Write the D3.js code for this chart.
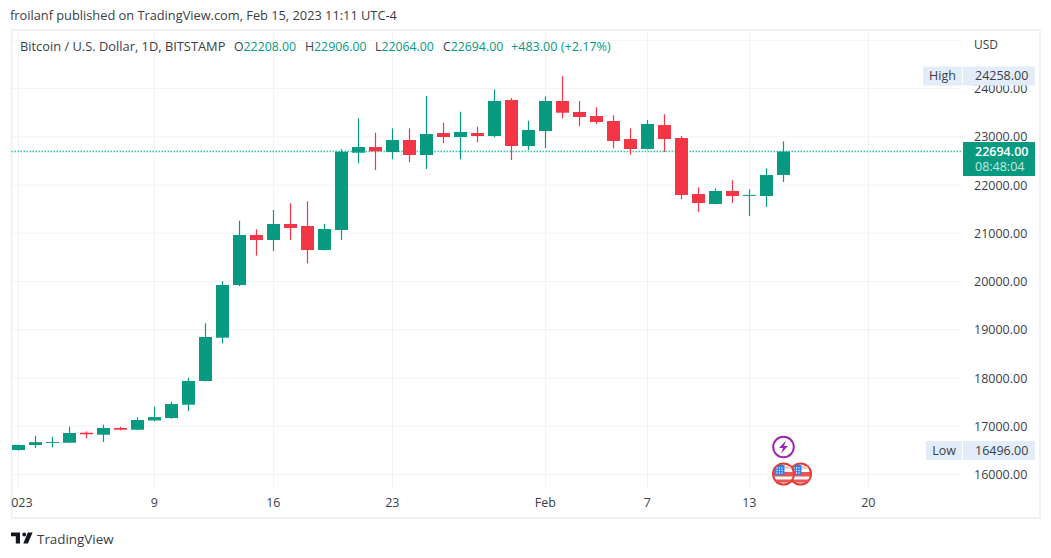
<!DOCTYPE html>
<html><head><meta charset="utf-8">
<script src="https://d3js.org/d3.v7.min.js"></script>
<style>
html,body{margin:0;padding:0;background:#fff;overflow:hidden}
svg{display:block}
text{font-family:"Open Sans",sans-serif}
</style></head><body>
<svg id="c" width="1051" height="558"></svg>
<script>
const startDate = "2023-01-01";
const opens  = [16508,16610,16665,16659,16866,16825,16964,16928,17120,17170,17447,17938,18835,19927,20964,20860,21192,21150,20653,21067,22669,22787,22684,22933,22622,23077,22995,23077,23015,23762,22808,23119,23741,23513,23430,23326,22953,22746,23243,22974,21813,21606,21876,21775,21772,22208];
const highs  = [16620,16800,16783,16990,16895,17032,16990,17185,17405,17510,18006,19134,20004,21260,21082,21482,21621,21662,21192,22740,23382,23084,23175,23175,23845,23291,23519,23208,23983,23803,23332,23838,24258,23741,23610,23444,23175,23347,23465,23015,21952,21931,22097,21911,22346,22906];
const lows   = [16496,16550,16564,16655,16750,16674,16916,16920,17110,17156,17316,17930,18719,19907,20535,20632,20860,20377,20645,20860,22450,22311,22533,22470,22331,22864,22533,22885,22988,22518,22725,22767,23382,23216,23264,22761,22628,22740,22684,21703,21440,21600,21627,21357,21544,22064];
const closes = [16611,16670,16675,16860,16833,16964,16928,17130,17190,17460,17938,18850,19927,20964,20860,21192,21109,20653,21088,22690,22787,22698,22933,22622,23057,22995,23098,23015,23741,22808,23140,23741,23498,23409,23306,22912,22746,23264,22953,21793,21627,21876,21772,21795,22208,22694];

const priceTicks = [16000,17000,18000,19000,20000,21000,22000,23000,24000];
const gridPrices = [16000,17000,18000,19000,20000,21000,22000,23000,24000,25000];
const timeTicks = ["2023-01-01","2023-01-09","2023-01-16","2023-01-23","2023-02-01","2023-02-07","2023-02-13","2023-02-20"];
const timeLabels = ["2023","9","16","23","Feb","7","13","20"];
const eventDates = ["2023-02-15","2023-02-16"];
const lastPrice = 22694, highPrice = 24258, lowPrice = 16496;
const countdown = "08:48:04";
const headerText = "froilanf published on TradingView.com, Feb 15, 2023 11:11 UTC-4";
const legendTitle = "Bitcoin / U.S. Dollar, 1D, BITSTAMP";
const legendPairs = [["O","22208.00"],["H","22906.00"],["L","22064.00"],["C","22694.00"]];
const legendChange = "+483.00 (+2.17%)";

const UP="#089981", DOWN="#f23645", GRID="#f1f3f6", BORDER="#eff1f5", TXT="#3a3e49", TAG="#e3edf9";
const svg=d3.select("#c");
const parse=d3.utcParse("%Y-%m-%d");
const x=d3.scaleUtc().domain([parse("2023-01-01"),parse("2023-02-15")]).range([18.5,783.5]);
const y=d3.scaleLinear().domain([16000,25000]).range([474.5,40.25]);
const days=opens.map((_,i)=>d3.utcDay.offset(parse(startDate),i));
const L=11.5,R=961.5,T=30,B=487;

// frame
svg.append("rect").attr("x",L).attr("y",T).attr("width",1040-L).attr("height",518-T).attr("fill","none").attr("stroke",BORDER).attr("stroke-width",2);

// grid
const g=svg.append("g");
g.selectAll(".h").data(gridPrices).join("line").attr("x1",L).attr("x2",R).attr("y1",d=>y(d)).attr("y2",d=>y(d)).attr("stroke",GRID);
g.selectAll(".v").data(timeTicks).join("line").attr("x1",d=>x(parse(d))).attr("x2",d=>x(parse(d))).attr("y1",T).attr("y2",B).attr("stroke",GRID);

// last price line
svg.append("line").attr("x1",L).attr("x2",R).attr("y1",y(lastPrice)).attr("y2",y(lastPrice)).attr("stroke","#2cc9a8").attr("stroke-width",1.3).attr("stroke-dasharray","1.5 1.5");

// candles
const cg=svg.append("g");
const col=i=>closes[i]>=opens[i]?UP:DOWN;
cg.selectAll(".w").data(days).join("line")
  .attr("x1",d=>x(d)).attr("x2",d=>x(d))
  .attr("y1",(d,i)=>y(highs[i])).attr("y2",(d,i)=>y(lows[i]))
  .attr("stroke",(d,i)=>col(i)).attr("stroke-width",1.2);
cg.selectAll(".b").data(days).join("rect")
  .attr("x",d=>x(d)-6.5).attr("width",13)
  .attr("y",(d,i)=>y(Math.max(opens[i],closes[i])))
  .attr("height",(d,i)=>Math.max(1,Math.abs(y(opens[i])-y(closes[i]))))
  .attr("fill",(d,i)=>col(i));

// price axis
const ya=d3.axisRight(y).tickValues(priceTicks).tickSize(0).tickPadding(0).tickFormat(d3.format(".2f"));
const yg=svg.append("g").attr("transform","translate(974,-0.5)").call(ya);
yg.select(".domain").remove();
yg.selectAll("text").attr("font-size",12.5).attr("fill",TXT).attr("font-family",'"Open Sans",sans-serif').attr("dy","0.36em");
svg.append("text").attr("x",974).attr("y",49).attr("font-size",12).attr("fill",TXT).text("USD");

// high / low tags
function tag(label,val,lx){
  const cy=y(val);
  svg.append("rect").attr("x",lx).attr("y",cy-9.5).attr("width",962-lx).attr("height",19).attr("fill",TAG);
  svg.append("rect").attr("x",963).attr("y",cy-9.5).attr("width",72).attr("height",19).attr("fill",TAG);
  svg.append("text").attr("x",(lx+962)/2).attr("y",cy+4).attr("text-anchor","middle").attr("font-size",12.5).attr("fill",TXT).text(label);
  svg.append("text").attr("x",975).attr("y",cy+4).attr("font-size",12.5).attr("fill",TXT).text(d3.format(".2f")(val));
}
tag("High",highPrice,923);
tag("Low",lowPrice,926);

// last price tag
const ly=y(lastPrice);
svg.append("rect").attr("x",963).attr("y",ly-9.5).attr("width",72).attr("height",34).attr("fill",UP);
svg.append("text").attr("x",975).attr("y",ly+4.5).attr("font-size",12.5).attr("font-weight",600).attr("fill","#fff").text(d3.format(".2f")(lastPrice));
svg.append("text").attr("x",975).attr("y",ly+19).attr("font-size",12.5).attr("fill","#c4e8df").text(countdown);

// time axis
svg.append("clipPath").attr("id","tc").append("rect").attr("x",11).attr("y",488).attr("width",1030).attr("height",30);
const labelOf=new Map(timeTicks.map((t,i)=>[+parse(t),timeLabels[i]]));
const xa=d3.axisBottom(x).tickValues(timeTicks.map(parse)).tickSize(0).tickPadding(0).tickFormat(d=>labelOf.get(+d));
const xg=svg.append("g").attr("clip-path","url(#tc)").append("g").attr("transform","translate(-0.7,498.5)").call(xa);
xg.select(".domain").remove();
xg.selectAll("text").attr("font-size",12.5).attr("fill",TXT).attr("font-family",'"Open Sans",sans-serif');

// header and legend
svg.append("text").attr("x",10).attr("y",20).attr("font-size",12.8).attr("fill",TXT).text(headerText);
svg.append("text").attr("x",20).attr("y",51).attr("font-size",12.85).attr("fill",TXT).text(legendTitle);
const pairX=[234,305,375,443];
legendPairs.forEach((p,i)=>{
  const t=svg.append("text").attr("x",pairX[i]).attr("y",51).attr("font-size",12.3).attr("fill",TXT);
  t.append("tspan").text(p[0]);
  t.append("tspan").attr("fill",UP).text(p[1]);
});
svg.append("text").attr("x",511).attr("y",51).attr("font-size",12.6).attr("fill",UP).text(legendChange);

// events
const ev=svg.append("g");
const evX=eventDates.map(d=>x(parse(d)));
ev.append("circle").attr("cx",evX[0]).attr("cy",447).attr("r",10.3).attr("fill","#fff").attr("stroke","#9c27b0").attr("stroke-width",2);
ev.append("path").attr("transform",`translate(${evX[0]},447)`).attr("d","M2.5-6.5L-4.5,1H-0.5L-2.5,6.5L4.5-1H0.5Z").attr("fill","#9c27b0");
const dots=d3.cross([-6.5,-4,-1.5],[-6,-3.5,-1]);
[1,0].forEach(i=>{
  const f=ev.append("g").attr("transform",`translate(${evX[i]},474)`);
  const id="flag"+i;
  f.append("clipPath").attr("id",id).append("circle").attr("r",10);
  f.append("circle").attr("r",10.5).attr("fill","#fff").attr("stroke","#e53935").attr("stroke-width",2);
  const c=f.append("g").attr("clip-path",`url(#${id})`);
  c.append("rect").attr("x",-11).attr("y",-2).attr("width",22).attr("height",4.5).attr("fill","#ef5350");
  c.append("rect").attr("x",-11).attr("y",5.5).attr("width",22).attr("height",3).attr("fill","#ef5350");
  c.append("rect").attr("x",1).attr("y",-8).attr("width",10).attr("height",3).attr("fill","#f8c9c9");
  c.append("rect").attr("x",-9).attr("y",-9).attr("width",10).attr("height",10).attr("fill","#2f80ed");
  c.selectAll(".d").data(dots).join("circle").attr("cx",d=>d[0]).attr("cy",d=>d[1]).attr("r",0.7).attr("fill","#fff");
});

// logo
svg.append("path").attr("transform","translate(11,532) scale(0.6,0.6)")
  .attr("d","M15 1H0v6h8v12h7V1ZM28 19h-7.5L28 1h8L28 19ZM22 1a3.2 3.2 0 1 1 0 6.4 3.2 3.2 0 0 1 0-6.4Z").attr("fill","#131722");
svg.append("text").attr("x",37).attr("y",544).attr("font-size",13.4).attr("fill",TXT).text("TradingView");
</script>
</body></html>
